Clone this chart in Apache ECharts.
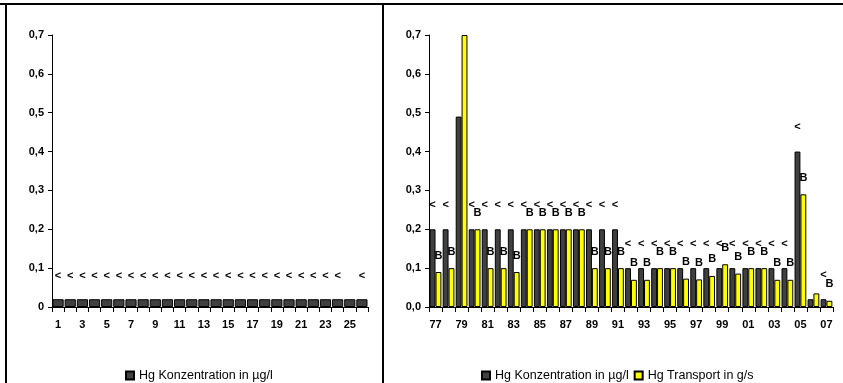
<!DOCTYPE html>
<html><head><meta charset="utf-8">
<script src="https://cdn.jsdelivr.net/npm/echarts@6/dist/echarts.min.js"></script>
<style>html,body{margin:0;padding:0;background:#fff}#c{width:843px;height:383px}</style>
</head><body><div id="c"></div>
<script>
// Left panel
const leftCats = ['1','2','3','4','5','6','7','8','9','10','11','12','13','14','15','16','17','18','19','20','21','22','23','24','25','26'];
const leftConc = [0.02,0.02,0.02,0.02,0.02,0.02,0.02,0.02,0.02,0.02,0.02,0.02,0.02,0.02,0.02,0.02,0.02,0.02,0.02,0.02,0.02,0.02,0.02,0.02,0.02,0.02];
const leftFlags = ['<','<','<','<','<','<','<','<','<','<','<','<','<','<','<','<','<','<','<','<','<','<','<','<','','<'];
// Right panel
const rightCats = ['77','78','79','80','81','82','83','84','85','86','87','88','89','90','91','92','93','94','95','96','97','98','99','00','01','02','03','04','05','06','07'];
const rightConc = [0.2,0.2,0.49,0.2,0.2,0.2,0.2,0.2,0.2,0.2,0.2,0.2,0.2,0.2,0.2,0.1,0.1,0.1,0.1,0.1,0.1,0.1,0.1,0.1,0.1,0.1,0.1,0.1,0.4,0.02,0.02];
const rightTrans = [0.09,0.1,0.7,0.2,0.1,0.1,0.09,0.2,0.2,0.2,0.2,0.2,0.1,0.1,0.1,0.07,0.07,0.1,0.1,0.073,0.071,0.08,0.11,0.086,0.1,0.1,0.07,0.07,0.29,0.035,0.016];
const rightConcFlags = ['<','<','','<','<','<','<','<','<','<','<','<','<','<','<','<','<','<','<','<','<','<','<','<','<','<','<','<','<','','<'];
const rightTransFlags = ['B','B','','B','B','B','B','B','B','B','B','B','B','B','B','B','B','B','B','B','B','B','B','B','B','B','B','B','B','','B'];
const seriesNames = ['Hg Konzentration in µg/l','Hg Transport in g/s'];

const FONT = 'Liberation Sans, Arial, sans-serif';
const fmtL = v => v === 0 ? '0' : v.toFixed(1).replace('.', ',');
const fmtR = v => v.toFixed(1).replace('.', ',');

function yAxis(idx, fmt) {
  return {
    gridIndex: idx, type: 'value', min: 0, max: 0.7, interval: 0.1,
    axisLine: {show: true, lineStyle: {color: '#000', width: 1}},
    axisTick: {show: true, length: 4, lineStyle: {color: '#000'}},
    splitLine: {show: false},
    axisLabel: {formatter: fmt, color: '#000', fontWeight: 'bold', fontSize: 11, fontFamily: FONT, margin: 8}
  };
}
function xAxis(idx, cats) {
  return {
    gridIndex: idx, type: 'category', data: cats,
    axisLine: {show: true, lineStyle: {color: '#000', width: 1}},
    axisTick: {show: true, interval: 0, length: 5, lineStyle: {color: '#000'}},
    axisLabel: {interval: 1, color: '#000', fontWeight: 'bold', fontSize: 11, fontFamily: FONT, margin: 12}
  };
}
const labelStyle = (flags, dist) => ({
  show: true, position: 'top', distance: dist,
  formatter: p => flags[p.dataIndex],
  color: '#000', fontWeight: 'bold', fontSize: 11, fontFamily: FONT
});
const legendText = {fontSize: 12.5, fontFamily: FONT, color: '#000'};

const chart = echarts.init(document.getElementById('c'), null, {renderer: 'canvas'});
chart.setOption({
  animation: false,
  backgroundColor: '#fff',
  grid: [
    {left: 52, top: 35, width: 316, height: 272},
    {left: 429, top: 35, width: 404, height: 272}
  ],
  xAxis: [xAxis(0, leftCats), xAxis(1, rightCats)],
  yAxis: [yAxis(0, fmtL), yAxis(1, fmtR)],
  legend: [
    {data: [{name: seriesNames[0], icon: 'rect'}], left: 120, top: 364, itemWidth: 8, itemHeight: 8, itemGap: 4,
     textStyle: legendText, selectedMode: false},
    {data: seriesNames.map(n => ({name: n, icon: 'rect'})), left: 476, top: 364, itemWidth: 8, itemHeight: 8, itemGap: 5,
     textStyle: legendText, selectedMode: false}
  ],
  series: [
    {name: seriesNames[0], type: 'bar', xAxisIndex: 0, yAxisIndex: 0, data: leftConc,
     barCategoryGap: '8%',
     itemStyle: {color: '#404040', borderColor: '#000', borderWidth: 1},
     label: labelStyle(leftFlags, 18)},
    {name: seriesNames[0], type: 'bar', xAxisIndex: 1, yAxisIndex: 1, data: rightConc,
     barGap: '0%', barCategoryGap: '10%',
     itemStyle: {color: '#404040', borderColor: '#000', borderWidth: 1},
     label: labelStyle(rightConcFlags, 19)},
    {name: seriesNames[1], type: 'bar', xAxisIndex: 1, yAxisIndex: 1, data: rightTrans,
     barGap: '0%', barCategoryGap: '10%',
     itemStyle: {color: '#ffff00', borderColor: '#000', borderWidth: 1},
     label: labelStyle(rightTransFlags, 11)}
  ],
  graphic: [
    {type: 'line', shape: {x1: 0, y1: 4, x2: 843, y2: 4}, style: {stroke: '#000', lineWidth: 2}},
    {type: 'line', shape: {x1: 6, y1: 4, x2: 6, y2: 383}, style: {stroke: '#000', lineWidth: 2}},
    {type: 'line', shape: {x1: 383, y1: 4, x2: 383, y2: 383}, style: {stroke: '#000', lineWidth: 2}}
  ]
});
</script></body></html>
